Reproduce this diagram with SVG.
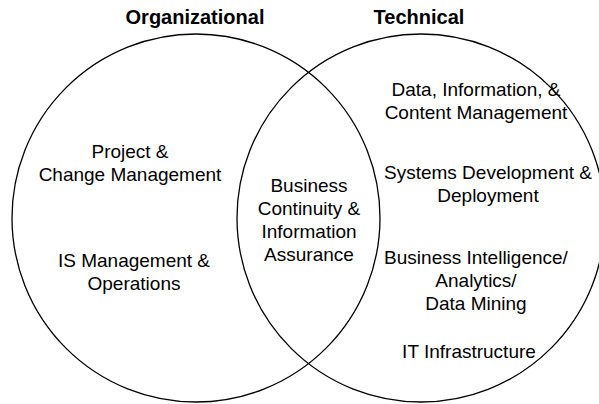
<svg xmlns="http://www.w3.org/2000/svg" width="599" height="404" viewBox="0 0 599 404">
<style>
.c{fill:none;stroke:#000;stroke-width:1.3}
text{font-family:"Liberation Sans",Arial,sans-serif;font-size:19px;fill:#000;text-anchor:middle}
.t{font-weight:bold;font-size:20px}
</style>
<rect width="599" height="404" fill="#fff"/>
<g id="connectors"></g>
<g id="organizational">
<circle class="c" cx="196" cy="218" r="184"/>
<text class="t" x="195" y="24">Organizational</text>
</g>
<g id="technical">
<circle class="c" cx="421" cy="218" r="184"/>
<text class="t" x="419" y="24">Technical</text>
</g>
<g id="project">
<text x="130" y="158">Project &amp;</text>
<text x="130" y="181">Change Management</text>
</g>
<g id="is-management">
<text x="134" y="267">IS Management &amp;</text>
<text x="134" y="290">Operations</text>
</g>
<g id="business-continuity">
<text x="309" y="192">Business</text>
<text x="309" y="215">Continuity &amp;</text>
<text x="309" y="238">Information</text>
<text x="309" y="261">Assurance</text>
</g>
<g id="data-info">
<text x="476" y="96">Data, Information, &amp;</text>
<text x="476" y="119">Content Management</text>
</g>
<g id="systems-dev">
<text x="488" y="179">Systems Development &amp;</text>
<text x="488" y="202">Deployment</text>
</g>
<g id="bi">
<text x="476" y="264">Business Intelligence/</text>
<text x="476" y="287">Analytics/</text>
<text x="476" y="310">Data Mining</text>
</g>
<g id="it-infra">
<text x="469" y="358">IT Infrastructure</text>
</g>
</svg>
